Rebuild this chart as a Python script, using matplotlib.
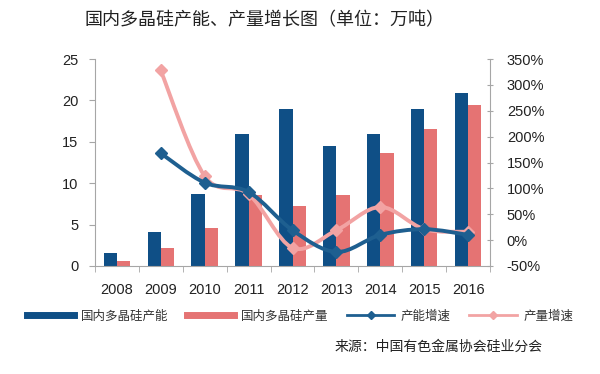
import numpy as np
import matplotlib.pyplot as plt
from matplotlib.path import Path
from matplotlib.patches import PathPatch
from matplotlib.lines import Line2D

plt.rcParams['font.family'] = ['Liberation Sans', 'Noto Sans CJK SC', 'DejaVu Sans']

years = ['2008', '2009', '2010', '2011', '2012', '2013', '2014', '2015', '2016']
capacity = [1.6, 4.1, 8.7, 16.0, 19.0, 14.5, 16.0, 19.0, 20.9]
output = [0.6, 2.2, 4.6, 8.6, 7.3, 8.6, 13.7, 16.5, 19.4]
cap_growth = [168, 111, 93, 19, -23, 10, 21, 10]     # 2009-2016
out_growth = [328, 124, 89, -15, 19, 64, 21, 16]

c_bar1 = '#0F4F86'
c_bar2 = '#E57373'
c_line1 = '#1E5F90'
c_line2 = '#F2A3A3'
grey = '#A6A6A6'
cjk = ['Noto Sans CJK SC', 'DejaVu Sans']


def smooth_path(xs, ys):
    # Excel-style smoothed line as cubic Bezier segments
    pts = np.column_stack([xs, ys]).astype(float)
    n = len(pts)
    verts = [pts[0]]
    codes = [Path.MOVETO]
    for i in range(n - 1):
        p0 = pts[i - 1] if i > 0 else pts[i]
        p1 = pts[i]
        p2 = pts[i + 1]
        p3 = pts[i + 2] if i + 2 < n else pts[i + 1]
        verts += [p1 + (p2 - p0) / 6, p2 - (p3 - p1) / 6, p2]
        codes += [Path.CURVE4] * 3
    return Path(verts, codes)


fig = plt.figure(figsize=(6, 3.74), dpi=100)
ax = fig.add_axes([0.158, 0.289, 0.659, 0.553])
ax2 = ax.twinx()

x = np.arange(len(years))
w = 0.3
ax.bar(x - w / 2, capacity, w, color=c_bar1, zorder=2)
ax.bar(x + w / 2, output, w, color=c_bar2, zorder=2)

ax.set_xlim(-0.5, len(years) - 0.5)
ax.set_ylim(0, 25)
ax.set_yticks(range(0, 26, 5))
ax.set_xticks(x)
ax.set_xticklabels(years)
ax.set_xticks(np.arange(-0.5, len(years)), minor=True)
ax.tick_params(axis='x', which='major', length=0, pad=12, labelsize=10.5, colors='#222222')
ax.tick_params(axis='x', which='minor', length=4, color=grey, direction='out')
ax.tick_params(axis='y', length=4, color=grey, labelsize=10.5, colors='#222222', pad=8)

gx = x[1:]
ax2.add_patch(PathPatch(smooth_path(gx, out_growth), facecolor='none',
                        edgecolor=c_line2, lw=2.8, zorder=3))
ax2.plot(gx, out_growth, ls='none', marker='D', ms=6, color=c_line2, zorder=4)
ax2.add_patch(PathPatch(smooth_path(gx, cap_growth), facecolor='none',
                        edgecolor=c_line1, lw=2.8, zorder=5))
ax2.plot(gx, cap_growth, ls='none', marker='D', ms=6, color=c_line1, zorder=6)

ax2.set_ylim(-50, 350)
ax2.set_yticks(range(-50, 351, 50))
ax2.set_yticklabels([f'{v}%' for v in range(-50, 351, 50)])
ax2.tick_params(axis='y', length=4, color=grey, labelsize=10.5, colors='#222222',
                direction='inout', pad=10)

for a in (ax, ax2):
    a.spines['top'].set_visible(False)
    for s in ('left', 'right', 'bottom'):
        a.spines[s].set_color(grey)
ax.spines['right'].set_visible(False)
ax2.spines['left'].set_visible(False)
ax2.spines['bottom'].set_visible(False)

fig.text(0.44, 0.945, '国内多晶硅产能、产量增长图（单位：万吨）', ha='center', va='center',
         fontsize=13, color='#222222', family=cjk)

handles = [
    Line2D([], [], color=c_bar1, lw=5),
    Line2D([], [], color=c_bar2, lw=5),
    Line2D([], [], color=c_line1, lw=2, marker='D', ms=4),
    Line2D([], [], color=c_line2, lw=2, marker='D', ms=4),
]
labels = ['国内多晶硅产能', '国内多晶硅产量', '产能增速', '产量增速']
leg = fig.legend(handles, labels, loc='center', bbox_to_anchor=(0.5, 0.155), ncol=4,
                 frameon=False, fontsize=9, handlelength=3.8, columnspacing=1.5,
                 handletextpad=0.5, labelcolor='#333333',
                 prop={'family': cjk, 'size': 9})

fig.text(0.905, 0.072, '来源：中国有色金属协会硅业分会', ha='right', va='center',
         fontsize=10, color='#222222', family=cjk)

fig.savefig('out.png', dpi=100)
